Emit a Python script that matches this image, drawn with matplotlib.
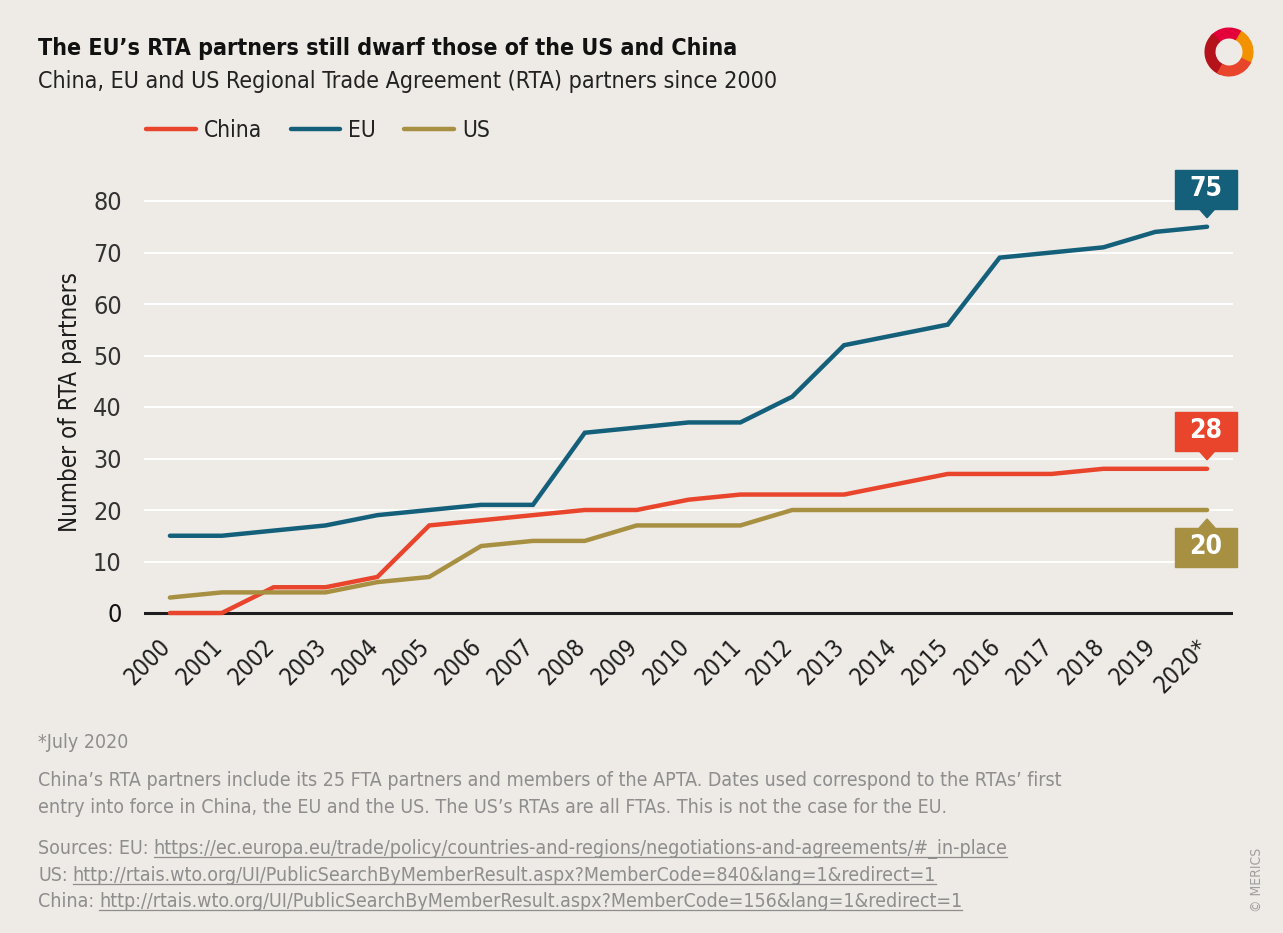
import matplotlib.pyplot as plt
import matplotlib.transforms as mtransforms
from matplotlib.patches import Rectangle, Polygon, Wedge
from matplotlib.lines import Line2D
import numpy as np

# data
years = ['2000', '2001', '2002', '2003', '2004', '2005', '2006', '2007', '2008', '2009', '2010',
         '2011', '2012', '2013', '2014', '2015', '2016', '2017', '2018', '2019', '2020*']
china = [0, 0, 5, 5, 7, 17, 18, 19, 20, 20, 22, 23, 23, 23, 25, 27, 27, 27, 28, 28, 28]
eu = [15, 15, 16, 17, 19, 20, 21, 21, 35, 36, 37, 37, 42, 52, 54, 56, 69, 70, 71, 74, 75]
us = [3, 4, 4, 4, 6, 7, 13, 14, 14, 17, 17, 17, 20, 20, 20, 20, 20, 20, 20, 20, 20]
y_ticks = [0, 10, 20, 30, 40, 50, 60, 70, 80]

BG = '#EEEAE6'
C_CHINA = '#E8452C'
C_EU = '#14607A'
C_US = '#A89043'
GREY = '#8E8E8E'
plt.rcParams['font.family'] = ['DejaVu Sans']
plt.rcParams['font.stretch'] = 'condensed'

W, H = 1283, 933
fig = plt.figure(figsize=(W / 100, H / 100), dpi=100, facecolor=BG)


def fx(px):
    return px / W


def fy(py):
    return 1 - py / H


# axes placed so that 0 -> y=613 px and 80 -> y=201 px
ylo, yhi = -2, 84
ppu = (613 - 201) / 80
ax_bot = 613 + (0 - ylo) * ppu
ax_top = 201 - (yhi - 80) * ppu
ax = fig.add_axes([fx(144), fy(ax_bot), (1233 - 144) / W, (ax_bot - ax_top) / H])
ax.set_facecolor(BG)
x = np.arange(len(years))

ax.set_xlim(-0.5, len(years) - 0.5)
ax.set_ylim(ylo, yhi)
ax.set_yticks(y_ticks)
ax.yaxis.grid(True, color='white', lw=1.4)
ax.set_axisbelow(True)
for s in ax.spines.values():
    s.set_visible(False)
ax.axhline(0, color='#1E1E1E', lw=2.2, zorder=1)

for vals, col, name in [(china, C_CHINA, 'China'), (eu, C_EU, 'EU'), (us, C_US, 'US')]:
    ax.plot(x, vals, color=col, lw=3.2, solid_capstyle='round', solid_joinstyle='miter',
            label=name, zorder=3)

ax.tick_params(axis='y', length=0, pad=16, labelsize=18, labelcolor='#333333')
ax.tick_params(axis='x', length=0, pad=4, labelsize=17, labelcolor='#1E1E1E')
ax.set_xticks(x)
ax.set_xticklabels(years, rotation=45, ha='right', va='center', rotation_mode='anchor')
for lab in ax.get_xticklabels():
    lab.set_transform(lab.get_transform() + mtransforms.Affine2D().translate(-3, -14))
ax.get_yticklabels()[0].set_color('#111111')
ax.set_ylabel('Number of RTA partners', fontsize=17.3, color='#1E1E1E', labelpad=8)

# value boxes at the 2020 end points
def value_box(xv, yv, text, col, below=False):
    tr = mtransforms.Affine2D() + mtransforms.ScaledTranslation(xv, yv, ax.transData)
    s = -1 if below else 1
    b0, b1, tip = 18 * s, 57 * s, 9 * s
    y0 = min(b0, b1)
    ax.add_patch(Rectangle((-32, y0), 62, 39, transform=tr, color=col, clip_on=False, zorder=4))
    ax.add_patch(Polygon([(-8, b0), (8, b0), (0, tip)], transform=tr, color=col,
                         clip_on=False, zorder=4))
    ax.text(-1, (b0 + b1) / 2, text, transform=tr, color='white', fontsize=19,
            fontweight='semibold', ha='center', va='center', zorder=5, clip_on=False)


value_box(x[-1], eu[-1], str(eu[-1]), C_EU)
value_box(x[-1], china[-1], str(china[-1]), C_CHINA)
value_box(x[-1], us[-1], str(us[-1]), C_US, below=True)

# legend
ax.legend(loc='upper left', bbox_to_anchor=(fx(126), fy(99)), bbox_transform=fig.transFigure,
          ncol=3, frameon=False, fontsize=16.3, handlelength=2.2, handletextpad=0.35,
          columnspacing=1.25, labelcolor='#222222')

# titles
fig.text(fx(38), fy(55), 'The EU\u2019s RTA partners still dwarf those of the US and China',
         fontsize=16.7, fontweight='bold', color='#111111', va='baseline')
fig.text(fx(38), fy(88), 'China, EU and US Regional Trade Agreement (RTA) partners since 2000',
         fontsize=16.7, color='#222222', va='baseline')

# footnotes
fs_note = 14.0
fig.text(fx(38), fy(748), '*July 2020', fontsize=fs_note, color=GREY, va='baseline')
fig.text(fx(38), fy(786), 'China\u2019s RTA partners include its 25 FTA partners and members of the APTA. '
         'Dates used correspond to the RTAs\u2019 first', fontsize=fs_note, color=GREY, va='baseline')
fig.text(fx(38), fy(813), 'entry into force in China, the EU and the US. The US\u2019s RTAs are all FTAs. '
         'This is not the case for the EU.', fontsize=fs_note, color=GREY, va='baseline')

renderer = fig.canvas.get_renderer()


def link_line(y_px, prefix, url):
    t1 = fig.text(fx(38), fy(y_px), prefix, fontsize=fs_note, color=GREY, va='baseline')
    bb = t1.get_window_extent(renderer)
    x2 = bb.x1 + 5
    t2 = fig.text(x2 / W, fy(y_px), url, fontsize=fs_note, color=GREY, va='baseline')
    bb2 = t2.get_window_extent(renderer)
    uy = fy(y_px + 3)
    fig.add_artist(Line2D([bb2.x0 / W, bb2.x1 / W], [uy, uy], transform=fig.transFigure,
                          color=GREY, lw=0.9))


link_line(854, 'Sources: EU:',
          'https://ec.europa.eu/trade/policy/countries-and-regions/negotiations-and-agreements/#_in-place')
link_line(881, 'US:', 'http://rtais.wto.org/UI/PublicSearchByMemberResult.aspx?MemberCode=840&lang=1&redirect=1')
link_line(907, 'China:', 'http://rtais.wto.org/UI/PublicSearchByMemberResult.aspx?MemberCode=156&lang=1&redirect=1')

fig.text(fx(1257), fy(880), '\u00a9 MERICS', fontsize=10, color='#A0A0A0', rotation=90,
         ha='center', va='center')

# logo
lax = fig.add_axes([fx(1202), fy(80), 54 / W, 56 / H])
lax.set_xlim(-1.1, 1.1)
lax.set_ylim(-1.1, 1.1)
lax.set_aspect('equal')
lax.axis('off')
for t1, t2, c in [(-30, 70, '#F39200'), (60, 140, '#E4003A'), (130, 250, '#B5121B'),
                  (240, 335, '#E8452C')]:
    lax.add_patch(Wedge((0, 0), 1.0, t1, t2, width=0.45, color=c, lw=0))

fig.savefig('out.png', dpi=100, facecolor=BG)
